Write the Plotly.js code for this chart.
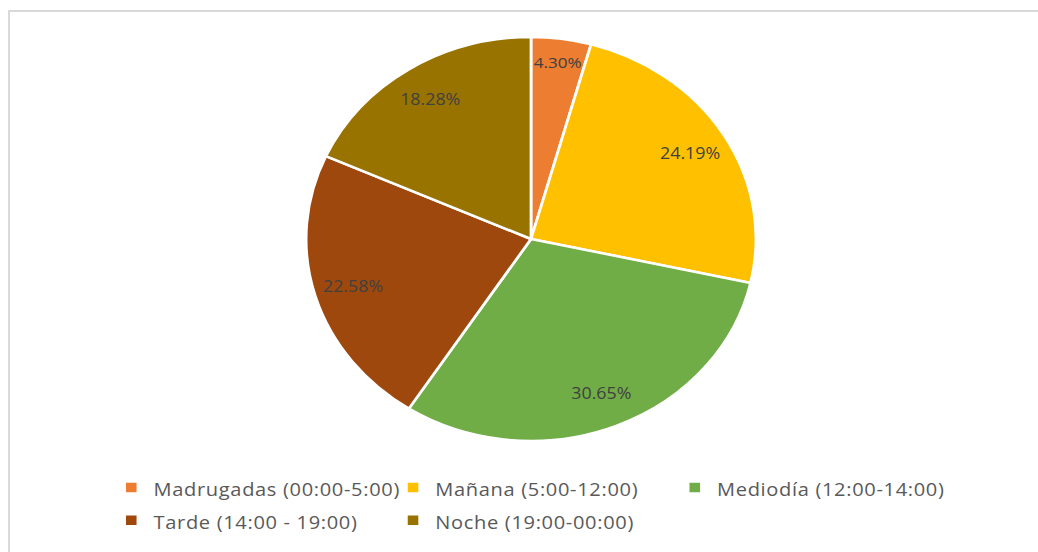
<!DOCTYPE html>
<html>
<head>
<meta charset="utf-8">
<script src="https://cdn.plot.ly/plotly-3.0.1.min.js"></script>
<style>
  html, body { margin: 0; padding: 0; width: 1038px; height: 552px; overflow: hidden; background: #fff; }
  #frame { position: absolute; left: 8px; top: 10px; width: 1100px; height: 600px;
           border-left: 2px solid #d9d9d9; border-top: 2px solid #d9d9d9; }
  #chart { position: absolute; left: 0; top: 0; width: 932px; height: 552px;
           transform: scaleX(1.1137); transform-origin: 0 0; }
</style>
</head>
<body>
<div id="frame"></div>
<div id="chart"></div>
<script>
const categories = [
  "Madrugadas (00:00-5:00)",
  "Mañana (5:00-12:00)",
  "Mediodía (12:00-14:00)",
  "Tarde (14:00 - 19:00)",
  "Noche (19:00-00:00)"
];
const shares = [4.30, 24.19, 30.65, 22.58, 18.28];
const sliceColors = ["#ED7D31", "#FFC000", "#70AD47", "#9E480E", "#997300"];

const legendLabels = categories.map(c =>
  '<span style="font-size:18px;letter-spacing:0.6px">' + c + '</span>');
const pieDomain = { x: [0.2949, 0.7283], y: [0.2011, 0.933] };

// Filled pie with white separators and legend
const pieTrace = {
  type: "pie",
  labels: legendLabels,
  values: shares,
  sort: false,
  direction: "clockwise",
  rotation: 0,
  marker: { colors: sliceColors, line: { color: "#ffffff", width: 2.5 } },
  textinfo: "none",
  hoverinfo: "label+percent",
  domain: pieDomain
};

// Transparent ring carrying the percentage labels near the outer part of each slice
const labelTrace = {
  type: "pie",
  labels: legendLabels,
  values: shares,
  sort: false,
  direction: "clockwise",
  rotation: 0,
  hole: 0.65,
  showlegend: false,
  marker: { colors: shares.map(() => "rgba(0,0,0,0)"), line: { width: 0 } },
  texttemplate: "%{percent:.2%}",
  textposition: "inside",
  insidetextorientation: "horizontal",
  textfont: { family: "Open Sans, sans-serif", size: 16, color: "#404040" },
  hoverinfo: "skip",
  domain: pieDomain
};

const layout = {
  width: 932,
  height: 552,
  margin: { l: 0, r: 0, t: 0, b: 0 },
  paper_bgcolor: "rgba(0,0,0,0)",
  plot_bgcolor: "rgba(0,0,0,0)",
  showlegend: true,
  legend: {
    orientation: "h",
    x: 0.105, xanchor: "left",
    y: 0.1558, yanchor: "top",
    entrywidth: 208,
    entrywidthmode: "pixels",
    font: { family: "Open Sans, sans-serif", size: 23, color: "#595959" },
    traceorder: "normal"
  }
};

Plotly.newPlot("chart", [pieTrace, labelTrace], layout, { displayModeBar: false, staticPlot: true });
</script>
</body>
</html>
